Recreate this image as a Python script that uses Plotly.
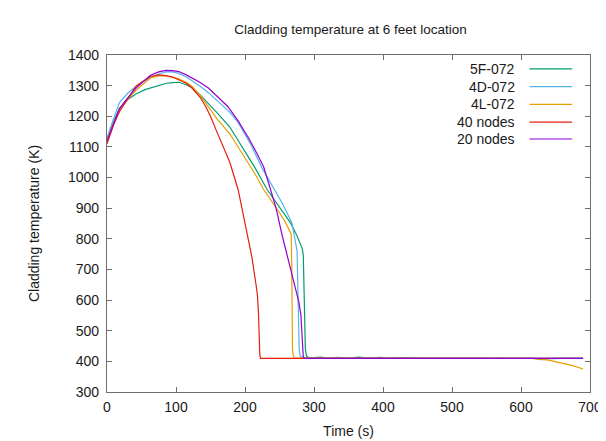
import plotly.graph_objects as go

# ---------------- data ----------------
names = ["5F-072", "4D-072", "4L-072", "40 nodes", "20 nodes"]
colors = ["#009e73", "#56b4e9", "#e69f00", "#e51e10", "#9400d3"]

t_5f = [0, 5, 10, 18, 30, 42, 55, 65, 75, 85, 95, 104, 115, 123, 135, 147, 160, 178, 190, 200, 215, 232, 250, 266,
        275, 280, 283, 284.5, 285.5, 286.5, 287.5, 289, 292, 300, 310, 320, 335, 350, 365, 380, 395, 410, 430, 460,
        500, 550, 600, 620, 630, 640, 660, 690]
T_5f = [1115, 1155, 1185, 1225, 1255, 1273, 1287, 1294, 1300, 1307, 1310, 1311, 1303, 1293, 1270, 1242, 1210, 1165,
        1122, 1082, 1030, 961, 905, 852, 812, 785, 768, 745, 650, 520, 440, 418, 413, 412, 414, 411, 413, 411, 414,
        411, 413, 411, 412, 410, 410, 410, 410, 410, 406, 409, 410, 410]

t_4d = [0, 5, 10, 18, 30, 42, 55, 63, 75, 85, 95, 104, 115, 123, 135, 147, 160, 170, 178, 190, 208, 225, 242, 255,
        268, 271, 274, 275.5, 276.5, 277.5, 278.5, 280, 285, 300, 400, 500, 600, 690]
T_4d = [1130, 1165, 1195, 1245, 1275, 1298, 1315, 1327, 1338, 1345, 1345, 1340, 1328, 1316, 1298, 1277, 1250, 1229,
        1213, 1180, 1110, 1030, 961, 912, 852, 815, 790, 760, 650, 520, 440, 418, 412, 411, 411, 410, 410, 410]

t_4l = [0, 5, 10, 18, 30, 42, 55, 63, 75, 85, 95, 104, 115, 123, 135, 147, 160, 178, 190, 200, 215, 227, 240, 250,
        259, 264, 267, 267.8, 268.3, 268.8, 270, 272, 280, 400, 500, 600, 615, 640, 660, 675, 690]
T_4l = [1120, 1150, 1180, 1220, 1255, 1285, 1310, 1325, 1332, 1332, 1328, 1322, 1310, 1298, 1268, 1232, 1190, 1143,
        1100, 1062, 1010, 961, 920, 885, 852, 830, 815, 700, 550, 440, 418, 411, 411, 410, 410, 410, 410, 404, 395,
        386, 375]

t_40 = [0, 5, 10, 18, 30, 42, 55, 63, 75, 85, 95, 104, 115, 123, 135, 143, 150, 160, 170, 178, 190, 197, 204, 210,
        216, 218, 219.5, 220.5, 221.5, 222.5, 230, 300, 400, 500, 600, 690]
T_40 = [1110, 1145, 1175, 1215, 1255, 1298, 1318, 1330, 1335, 1333, 1328, 1320, 1308, 1293, 1262, 1232, 1200, 1145,
        1090, 1050, 961, 880, 810, 740, 650, 616, 560, 480, 420, 410, 410, 410, 410, 410, 410, 410]

t_20 = [0, 5, 10, 18, 30, 42, 55, 63, 75, 85, 95, 104, 115, 123, 135, 147, 160, 175, 190, 205, 216, 227, 237, 245,
        254, 263, 273, 278, 281, 282.5, 283.5, 284.5, 286, 290, 400, 500, 600, 690]
T_20 = [1120, 1150, 1180, 1225, 1260, 1292, 1318, 1334, 1345, 1350, 1349, 1346, 1335, 1326, 1310, 1292, 1265, 1232,
        1185, 1130, 1084, 1035, 961, 900, 810, 730, 648, 594, 552, 480, 425, 414, 411, 410, 410, 410, 410, 410]

series_t = [t_5f, t_4d, t_4l, t_40, t_20]
series_T = [T_5f, T_4d, T_4l, T_40, T_20]

x_ticks = [0, 100, 200, 300, 400, 500, 600, 700]
y_ticks = [300, 400, 500, 600, 700, 800, 900, 1000, 1100, 1200, 1300, 1400]

title_text = "Cladding temperature at 6 feet location"
x_title = "Time (s)"
y_title = "Cladding temperature (K)"

# ---------------- figure ----------------
FONT = "Liberation Sans, Arial, sans-serif"
TXT = "#1a1a1a"
AX = "#6e6e6e"

fig = go.Figure()
for n, c, tx, ty in zip(names, colors, series_t, series_T):
    fig.add_trace(go.Scatter(x=tx, y=ty, mode="lines", name=n,
                             line=dict(color=c, width=1.2), showlegend=False))

# gnuplot-style key: text right-aligned, line sample to its right
W, H = 606, 441
L, R, T, B = 99, 20, 47, 53
pw, ph = W - L - R, H - T - B
row_y = [61, 79, 97, 115, 132]
for n, c, yy in zip(names, colors, row_y):
    yp = (H - B - yy) / ph
    fig.add_annotation(xref="paper", yref="paper", x=(512 - L) / pw, y=yp, text=n,
                       showarrow=False, xanchor="right", yanchor="middle",
                       font=dict(family=FONT, size=14, color=TXT))
    fig.add_shape(type="line", xref="paper", yref="paper",
                  x0=(525 - L) / pw, x1=(568 - L) / pw, y0=yp, y1=yp,
                  line=dict(color=c, width=1.2))

axis_common = dict(showline=True, linecolor=AX, linewidth=1.3, mirror="ticks",
                   ticks="inside", ticklen=5, tickcolor=AX, tickwidth=1,
                   showgrid=False, zeroline=False,
                   tickfont=dict(family=FONT, size=14, color=TXT))

fig.update_layout(
    width=W, height=H,
    margin=dict(l=L, r=R, t=T, b=B),
    paper_bgcolor="white", plot_bgcolor="white",
    title=dict(text=title_text, x=(L + pw / 2) / W, xanchor="center", y=1 - 21 / H, yanchor="middle",
               font=dict(family=FONT, size=13.5, color=TXT)),
    xaxis=dict(range=[0, 700], tickvals=x_ticks, ticklabelstandoff=2,
               title=dict(text=x_title, font=dict(family=FONT, size=14, color=TXT), standoff=12),
               **axis_common),
    yaxis=dict(range=[300, 1400], tickvals=y_ticks, ticklabelstandoff=4,
               title=dict(text=y_title, font=dict(family=FONT, size=14, color=TXT), standoff=24),
               **axis_common),
)

fig.write_html("out.html")
